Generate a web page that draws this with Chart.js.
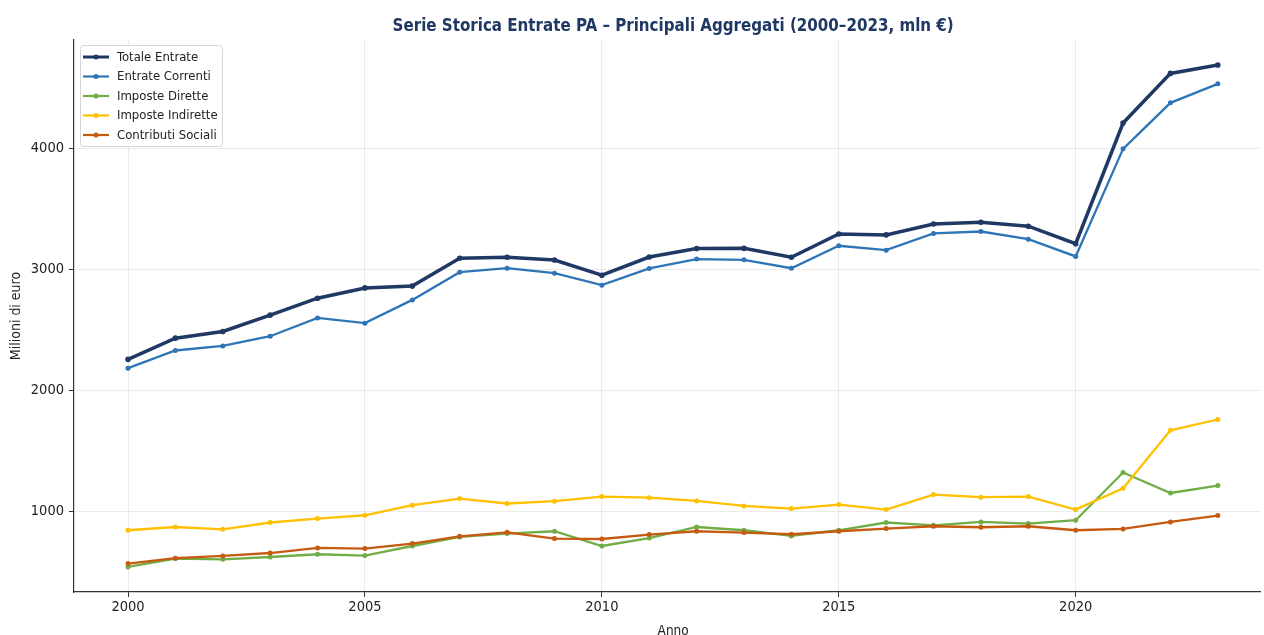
<!DOCTYPE html>
<html>
<head>
<meta charset="utf-8">
<title>Serie Storica Entrate PA</title>
<script src="https://cdn.jsdelivr.net/npm/chart.js@4/dist/chart.umd.min.js"></script>
<style>
  html, body { margin: 0; padding: 0; background: #fff; }
  #wrap { width: 1264px; height: 635px; overflow: hidden; }
</style>
</head>
<body>
<div id="wrap"><canvas id="entrateChart" width="1264" height="635"></canvas></div>
<script>
// anni e valori (mln €)
const years = [2000, 2001, 2002, 2003, 2004, 2005, 2006, 2007, 2008, 2009, 2010, 2011,
  2012, 2013, 2014, 2015, 2016, 2017, 2018, 2019, 2020, 2021, 2022, 2023];

const totaleEntrate = [2255, 2430, 2485, 2620, 2760, 2845, 2860, 3090, 3098, 3075, 2950, 3100,
  3170, 3172, 3098, 3290, 3283, 3373, 3388, 3355, 3210, 4207, 4617, 4686];
const entrateCorrenti = [2182, 2328, 2366, 2446, 2597, 2554, 2746, 2975, 3008, 2967, 2868, 3006,
  3083, 3077, 3008, 3193, 3157, 3295, 3311, 3248, 3105, 3994, 4374, 4531];
const imposteDirette = [540, 609, 603, 622, 645, 634, 713, 788, 816, 835, 713, 779,
  870, 843, 796, 843, 907, 884, 912, 898, 926, 1320, 1151, 1212];
const imposteIndirette = [843, 870, 851, 907, 940, 967, 1050, 1105, 1064, 1083, 1121, 1112,
  1085, 1044, 1022, 1055, 1014, 1138, 1116, 1121, 1014, 1190, 1669, 1758];
const contributiSociali = [568, 612, 631, 655, 697, 692, 733, 793, 826, 774, 771, 807,
  835, 824, 810, 835, 857, 876, 868, 876, 843, 854, 912, 964];

const seriesNames = ['Totale Entrate', 'Entrate Correnti', 'Imposte Dirette', 'Imposte Indirette', 'Contributi Sociali'];
const xTicks = [2000, 2005, 2010, 2015, 2020];
const yTicks = [1000, 2000, 3000, 4000];
const chartTitle = 'Serie Storica Entrate PA – Principali Aggregati (2000–2023, mln €)';

const colors = ['#1f3864', '#2e75b6', '#70ad47', '#ffc000', '#c55a11'];
const widths = [3.5, 2.3, 2.3, 2.3, 2.3];
const allSeries = [totaleEntrate, entrateCorrenti, imposteDirette, imposteIndirette, contributiSociali];

const FONT = '"DejaVu Sans Condensed", "DejaVu Sans", sans-serif';

const datasets = allSeries.map((vals, i) => ({
  label: seriesNames[i],
  data: vals.map((v, k) => ({ x: years[k], y: v })),
  borderColor: colors[i],
  backgroundColor: colors[i],
  borderWidth: widths[i],
  pointRadius: i === 0 ? 2.8 : 2.5,
  pointBorderWidth: 0,
  tension: 0,
  order: 5 - i
}));

// titolo e "Anno" centrati sull'asse intero (2024.15 = bordo destro dell'asse originale)
const decor = {
  id: 'decor',
  afterDraw(chart) {
    const ctx = chart.ctx;
    const area = chart.chartArea;
    const mid = (area.left + chart.scales.x.getPixelForValue(2024.15)) / 2;
    ctx.save();
    ctx.textAlign = 'center';
    ctx.textBaseline = 'middle';
    ctx.font = 'bold 16.8px ' + FONT;
    ctx.fillStyle = '#1f3864';
    ctx.fillText(chartTitle, mid, 26.5);
    ctx.font = '13.5px ' + FONT;
    ctx.fillStyle = '#222';
    ctx.fillText('Anno', mid, 631);

    const x0 = 80, y0 = 45, w = 142, h = 101;
    ctx.fillStyle = 'rgba(255,255,255,0.9)';
    ctx.strokeStyle = '#d6d6d6';
    ctx.lineWidth = 1;
    ctx.beginPath();
    ctx.roundRect(x0 + 0.5, y0 + 0.5, w, h, 3);
    ctx.fill();
    ctx.stroke();
    ctx.font = '13px ' + FONT;
    ctx.textAlign = 'left';
    seriesNames.forEach((name, i) => {
      const y = 57 + i * 19.5;
      ctx.strokeStyle = colors[i];
      ctx.lineWidth = i === 0 ? 3 : 2.2;
      ctx.beginPath();
      ctx.moveTo(83, y);
      ctx.lineTo(109, y);
      ctx.stroke();
      ctx.fillStyle = colors[i];
      ctx.beginPath();
      ctx.arc(96, y, 2.5, 0, Math.PI * 2);
      ctx.fill();
      ctx.fillStyle = '#222';
      ctx.fillText(name, 117, y + 0.5);
    });
    ctx.restore();
  }
};

new Chart(document.getElementById('entrateChart'), {
  type: 'line',
  data: { datasets },
  plugins: [decor],
  options: {
    responsive: false,
    animation: false,
    devicePixelRatio: 1,
    layout: { padding: { left: 0, right: 0, top: 40, bottom: 0 } },
    plugins: {
      legend: { display: false },
      tooltip: { enabled: false },
      title: { display: false }
    },
    scales: {
      x: {
        type: 'linear',
        min: 1998.86,
        max: 2023.89,
        afterBuildTicks(scale) { scale.ticks = xTicks.map(v => ({ value: v })); },
        afterFit(scale) { scale.height = 43; },
        grid: { color: 'rgba(0,0,0,0.08)', tickColor: '#333', tickLength: 5, lineWidth: 1 },
        border: { display: true, color: '#333', width: 1.2 },
        ticks: {
          color: '#222',
          font: { family: FONT, size: 14.5 },
          padding: 2,
          maxRotation: 0,
          callback: v => String(v)
        },
        title: { display: false }
      },
      y: {
        type: 'linear',
        min: 333,
        max: 4893,
        afterBuildTicks(scale) { scale.ticks = yTicks.map(v => ({ value: v })); },
        afterFit(scale) { scale.width = 74; },
        grid: { color: 'rgba(0,0,0,0.08)', tickColor: '#333', tickLength: 5, lineWidth: 1 },
        border: { display: true, color: '#333', width: 1.2 },
        ticks: {
          color: '#222',
          font: { family: FONT, size: 14.5 },
          padding: 5,
          callback: v => String(v)
        },
        title: {
          display: true,
          text: 'Milioni di euro',
          color: '#222',
          font: { family: FONT, size: 14, lineHeight: 1.2 },
          padding: { top: 8, bottom: 0 }
        }
      }
    }
  }
});
</script>
</body>
</html>
